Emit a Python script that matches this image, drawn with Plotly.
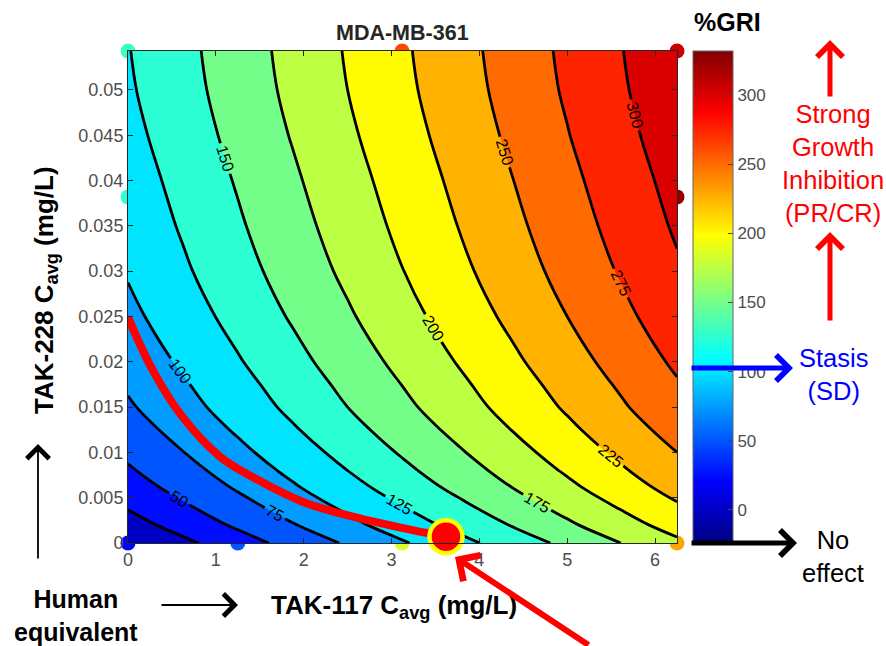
import plotly.graph_objects as go

# ---------------- data ----------------
tak117 = [0, 0.625, 1.25, 1.875, 2.5, 3.125, 3.75, 4.375, 5, 5.625, 6.25]          # mg/L
tak228 = [0, 0.002, 0.004, 0.006, 0.008, 0.010, 0.0125, 0.015, 0.0175, 0.02,
          0.025, 0.03, 0.035, 0.04, 0.045, 0.05, 0.0543]                           # mg/L
gri = [
    [0, 19.5, 39, 58.5, 78, 97.5, 117, 136.5, 156, 175.5, 195],
    [15, 34.5, 54, 73.5, 93, 112.5, 132, 151.5, 171, 190.5, 210],
    [27, 46.5, 66, 85.5, 105, 124.5, 144, 163.5, 183, 202.5, 222],
    [38, 57.5, 77, 96.5, 116, 135.5, 155, 174.5, 194, 213.5, 233],
    [47, 66.5, 86, 105.5, 125, 144.5, 164, 183.5, 203, 222.5, 242],
    [55, 74.5, 94, 113.5, 133, 152.5, 172, 191.5, 211, 230.5, 250],
    [64, 83.5, 103, 122.5, 142, 161.5, 181, 200.5, 220, 239.5, 259],
    [72, 91.5, 111, 130.5, 150, 169.5, 189, 208.5, 228, 247.5, 267],
    [78, 97.5, 117, 136.5, 156, 175.5, 195, 214.5, 234, 253.5, 273],
    [84, 103.5, 123, 142.5, 162, 181.5, 201, 220.5, 240, 259.5, 279],
    [94, 113.5, 133, 152.5, 172, 191.5, 211, 230.5, 250, 269.5, 289],
    [102, 121.5, 141, 160.5, 180, 199.5, 219, 238.5, 258, 277.5, 297],
    [108, 127.5, 147, 166.5, 186, 205.5, 225, 244.5, 264, 283.5, 303],
    [113, 132.5, 152, 171.5, 191, 210.5, 230, 249.5, 269, 288.5, 308],
    [118, 137.5, 157, 176.5, 196, 215.5, 235, 254.5, 274, 293.5, 313],
    [122, 141.5, 161, 180.5, 200, 219.5, 239, 258.5, 278, 297.5, 317],
    [124, 143.5, 163, 182.5, 202, 221.5, 241, 260.5, 280, 299.5, 319],
]
contour_start, contour_end, contour_step = 25, 300, 25

# observed points
obs_x = [0, 3.12, 6.25, 0, 3.12, 6.25, 0, 1.25, 3.12, 6.25]
obs_y = [0.0543, 0.0543, 0.0543, 0.0382, 0.0382, 0.0382, 0, 0, 0, 0]
obs_gri = [130, 262, 305, 125, 265, 325, 22, 50, 185, 230]

# human-equivalent curve and point
human_x = [0, 0.28, 0.59, 1.05, 1.47, 2.0, 2.56, 3.1, 3.62]
human_y = [0.0249, 0.0191, 0.0143, 0.0095, 0.0070, 0.0045, 0.0029, 0.0017, 0.0007]
human_pt_x = [3.62]
human_pt_y = [0.0007]

x_ticks = [0, 1, 2, 3, 4, 5, 6]
x_ticktext = ["0", "1", "2", "3", "4", "5", "6"]
y_ticks = [0, 0.005, 0.01, 0.015, 0.02, 0.025, 0.03, 0.035, 0.04, 0.045, 0.05]
y_ticktext = ["0", "0.005", "0.01", "0.015", "0.02", "0.025", "0.03", "0.035", "0.04", "0.045", "0.05"]
cbar_ticks = [0, 50, 100, 150, 200, 250, 300]
CMIN, CMAX = -24, 332

# ---------------- styling ----------------
FONT = "Liberation Sans, Arial, sans-serif"
GRAY = "#4d4d4d"
AX = "#262626"

JET = [(0.0, (0, 0, 0.5)), (0.125, (0, 0, 1)), (0.375, (0, 1, 1)),
       (0.625, (1, 1, 0)), (0.875, (1, 0, 0)), (1.0, (0.5, 0, 0))]


def jet(t):
    t = min(max(t, 0.0), 1.0)
    for (p0, c0), (p1, c1) in zip(JET[:-1], JET[1:]):
        if t <= p1:
            f = (t - p0) / (p1 - p0) if p1 > p0 else 0
            c = [c0[i] + f * (c1[i] - c0[i]) for i in range(3)]
            return "rgb(%d,%d,%d)" % tuple(round(255 * v) for v in c)
    return "rgb(128,0,0)"


jet_cs = [[p, "rgb(%d,%d,%d)" % tuple(round(255 * v) for v in c)] for p, c in JET]

# filled bands are coloured (like MATLAB contourf) by their lower level
band_lows = [0] + list(range(contour_start, contour_end + 1, contour_step))
nb = len(band_lows) - 1
fill_cs = [[k / nb, jet((lv - CMIN) / (CMAX - CMIN))] for k, lv in enumerate(band_lows)]

W, H = 886, 646
PL, PR, PT, PB = 128, 677, 51, 543


def pp(xp, yp):
    return (xp - PL) / (PR - PL), (PB - yp) / (PB - PT)


fig = go.Figure()

# observed points (under the contour, on base axes)
fig.add_trace(go.Scatter(
    x=obs_x, y=obs_y, mode="markers", xaxis="x", yaxis="y", cliponaxis=False,
    hoverinfo="skip",
    marker=dict(size=15, color=obs_gri, colorscale=jet_cs, cmin=CMIN, cmax=CMAX,
                line=dict(width=0), showscale=True,
                colorbar=dict(x=pp(693, 0)[0], xanchor="left", xpad=0, ypad=0,
                              y=0.5, yanchor="middle", len=1, lenmode="fraction",
                              thickness=40, thicknessmode="pixels",
                              outlinewidth=1, outlinecolor="#666",
                              ticks="inside", ticklen=5, tickcolor="#444",
                              tickvals=cbar_ticks,
                              tickfont=dict(size=17, color=GRAY, family=FONT)))))

fig.add_trace(go.Contour(
    x=tak117, y=tak228, z=gri, xaxis="x2", yaxis="y2",
    autocontour=False,
    contours=dict(start=contour_start, end=contour_end, size=contour_step,
                  coloring="fill", showlabels=True,
                  labelfont=dict(size=16, color="black", family=FONT)),
    colorscale=fill_cs, showscale=False,
    line=dict(color="black", width=2.8, smoothing=1),
    hoverinfo="skip"))

fig.add_trace(go.Scatter(
    x=human_x, y=human_y, mode="lines", xaxis="x2", yaxis="y2", cliponaxis=False,
    line=dict(color="#ff0000", width=8, shape="spline"), hoverinfo="skip"))

fig.add_trace(go.Scatter(
    x=human_pt_x, y=human_pt_y, mode="markers", xaxis="x2", yaxis="y2", cliponaxis=False,
    marker=dict(size=33, color="#ff0000", line=dict(color="#ffff00", width=4.5)),
    hoverinfo="skip"))

anns = []


def text(t, xp, yp, size, color="black", bold=False, angle=0):
    x, y = pp(xp, yp)
    if bold:
        t = "<b>" + t + "</b>"
    anns.append(dict(text=t, x=x, y=y, xref="paper", yref="paper", showarrow=False,
                     xanchor="center", yanchor="middle", textangle=angle,
                     font=dict(size=size, color=color, family=FONT)))


def arrow(head, tail, color, width, size):
    x, y = pp(*head)
    anns.append(dict(text="", x=x, y=y, xref="paper", yref="paper", showarrow=True,
                     ax=tail[0] - head[0], ay=tail[1] - head[1],
                     arrowhead=4, arrowsize=size, arrowwidth=width,
                     arrowcolor=color, standoff=0, startstandoff=0))


text("MDA-MB-361", 402, 33, 21.5, AX, bold=True)
text("%GRI", 727, 22, 25, "black", bold=True)
text("TAK-228 C<sub>avg</sub> (mg/L)", 45, 290, 26, "black", bold=True, angle=-90)
text("TAK-117 C<sub>avg</sub> (mg/L)", 394, 606, 26, "black", bold=True)
text("Human<br>equivalent", 76, 615, 25, "black", bold=True)
text("Strong<br>Growth<br>Inhibition<br>(PR/CR)", 833, 164, 25.5, "#ff0000")
text("Stasis<br>(SD)", 833, 374, 25.5, "#0000ff")
text("No<br>effect", 833, 556, 25.5, "black")

arrow((38, 444), (38, 560), "black", 1.8, 2.4)
arrow((238, 605), (160, 605), "black", 1.8, 2.4)
arrow((455, 557), (590, 656), "#ff0000", 6, 1.0)
arrow((830, 40), (830, 98), "#ff0000", 5, 1.0)
arrow((830, 232), (830, 322), "#ff0000", 5, 1.0)
arrow((793, 368), (690, 368), "#0000ff", 5, 1.0)
arrow((797, 543), (690, 543), "black", 5, 1.0)

axis_common = dict(showgrid=False, zeroline=False, showline=True, linecolor=AX, linewidth=1,
                   mirror="ticks", ticks="inside", ticklen=5, tickcolor=AX,
                   tickfont=dict(size=18, color=GRAY, family=FONT), fixedrange=True)

fig.update_layout(
    width=W, height=H,
    margin=dict(l=PL, r=W - PR, t=PT, b=H - PB, pad=0),
    paper_bgcolor="white", plot_bgcolor="white", showlegend=False,
    font=dict(family=FONT),
    xaxis=dict(range=[0, 6.25], visible=False, fixedrange=True),
    yaxis=dict(range=[0, 0.0543], visible=False, fixedrange=True),
    xaxis2=dict(overlaying="x", anchor="y2", side="bottom", range=[0, 6.25],
                tickvals=x_ticks, ticktext=x_ticktext, **axis_common),
    yaxis2=dict(overlaying="y", anchor="x2", side="left", range=[0, 0.0543],
                tickvals=y_ticks, ticktext=y_ticktext, **axis_common),
    annotations=anns,
)

fig.write_html("out.html")
